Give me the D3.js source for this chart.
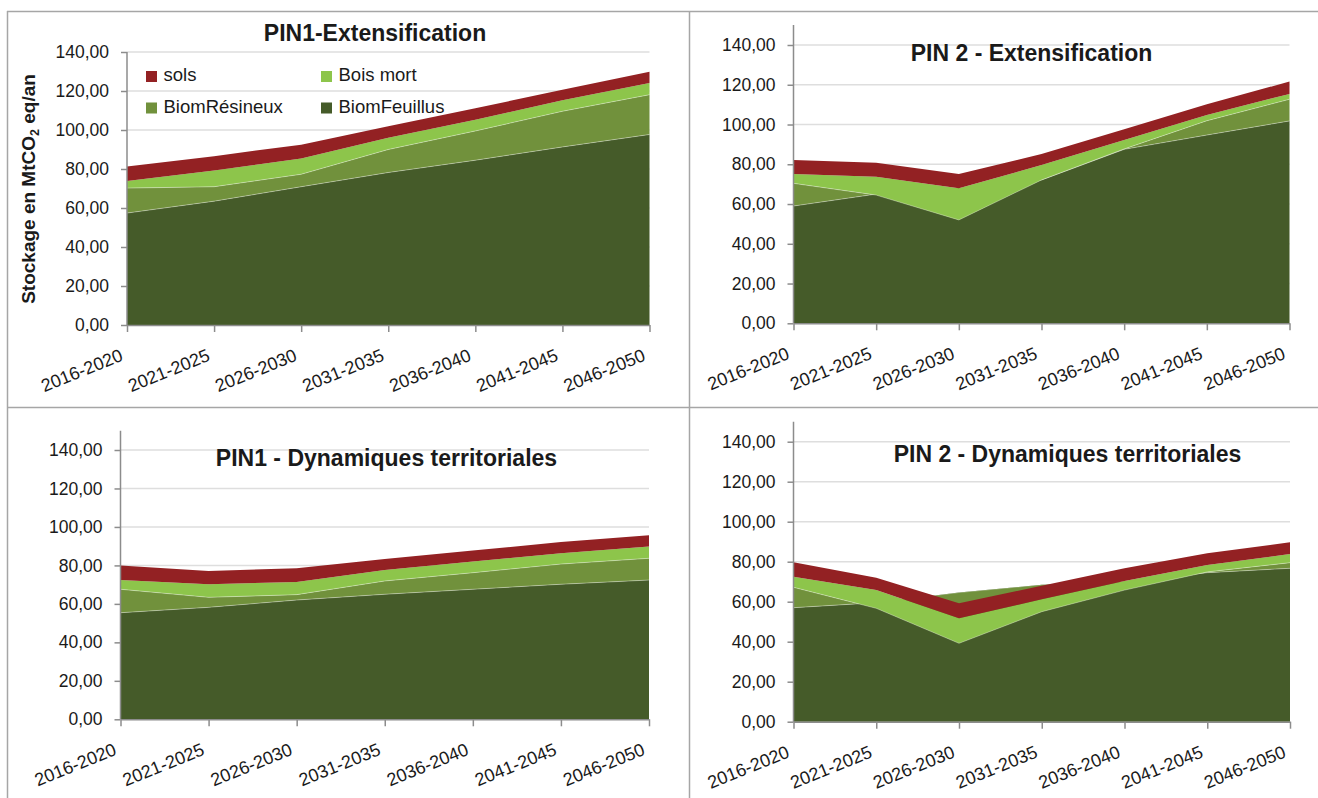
<!DOCTYPE html>
<html>
<head>
<meta charset="utf-8">
<script src="https://cdn.jsdelivr.net/npm/d3@7/dist/d3.min.js"></script>
<style>
  html, body { margin: 0; padding: 0; background: #ffffff; }
  svg { display: block; }
  text { font-family: "Liberation Sans", Arial, sans-serif; fill: #1a1a1a; }
</style>
</head>
<body>
<svg id="chart" width="1318" height="798"></svg>
<script>
// Periods on the x axis
const periods = ["2016-2020", "2021-2025", "2026-2030", "2031-2035", "2036-2040", "2041-2045", "2046-2050"];

// Stocking components, stacked in this order (MtCO2 eq / an)
const seriesKeys = ["BiomFeuillus", "BiomRésineux", "Bois mort", "sols"];
const legendOrder = ["sols", "Bois mort", "BiomRésineux", "BiomFeuillus"];

// y axis tick values
const yTicks = [0, 20, 40, 60, 80, 100, 120, 140];

// PIN1 - Extensification
const pin1ExtFeuillus  = [57.4, 63.5, 70.9, 78.2, 84.5, 91.3, 97.7];
const pin1ExtResineux  = [12.8, 7.4, 6.4, 11.8, 15.0, 18.3, 20.4];
const pin1ExtBoisMort  = [3.6, 8.3, 8.1, 6.0, 5.8, 5.6, 6.0];
const pin1ExtSols      = [7.5, 7.4, 7.1, 5.9, 5.8, 5.5, 5.8];

// PIN 2 - Extensification
const pin2ExtFeuillus  = [59.0, 65.0, 68.0, 72.1, 87.5, 94.7, 101.8];
const pin2ExtResineux  = [11.4, -0.5, -16.0, 0.0, 0.2, 7.2, 10.9];
const pin2ExtBoisMort  = [4.7, 9.2, 15.9, 7.5, 4.5, 2.9, 2.7];
const pin2ExtSols      = [7.0, 7.1, 7.2, 5.6, 5.4, 5.4, 6.2];

// PIN1 - Dynamiques territoriales
const pin1DynFeuillus  = [55.4, 58.2, 62.0, 65.0, 67.6, 70.2, 72.4];
const pin1DynResineux  = [12.2, 5.2, 2.8, 6.9, 8.6, 10.5, 11.3];
const pin1DynBoisMort  = [4.8, 6.8, 6.6, 5.7, 5.8, 5.6, 6.1];
const pin1DynSols      = [7.5, 6.9, 7.1, 5.7, 5.7, 5.9, 5.9];

// PIN 2 - Dynamiques territoriales
const pin2DynFeuillus  = [57.0, 59.5, 64.6, 68.5, 70.0, 74.5, 76.7];
const pin2DynResineux  = [10.2, -2.8, -25.4, -13.5, -4.2, 0.4, 2.8];
const pin2DynBoisMort  = [5.3, 9.1, 12.5, 6.2, 4.5, 3.4, 4.3];
const pin2DynSols      = [7.2, 6.2, 7.5, 6.8, 6.4, 5.9, 5.9];

const colors = {
  "BiomFeuillus": "#455b29",
  "BiomRésineux": "#71913c",
  "Bois mort": "#8dc54b",
  "sols": "#932123"
};

function rows(feuillus, resineux, boisMort, sols) {
  return periods.map((p, i) => ({
    period: p,
    "BiomFeuillus": feuillus[i],
    "BiomRésineux": resineux[i],
    "Bois mort": boisMort[i],
    "sols": sols[i]
  }));
}

// Panel frames: plot box in pixels and axis maximum
const panels = [
  { title: "PIN1-Extensification", data: rows(pin1ExtFeuillus, pin1ExtResineux, pin1ExtBoisMort, pin1ExtSols),
    x0: 127, x1: 649.5, yZero: 325, y140: 52, max: 140, tx: 375, ty: 41, legend: true, yTitle: true },
  { title: "PIN 2 - Extensification", data: rows(pin2ExtFeuillus, pin2ExtResineux, pin2ExtBoisMort, pin2ExtSols),
    x0: 793.5, x1: 1289.5, yZero: 323.3, y140: 45, max: 150, tx: 1031.5, ty: 61 },
  { title: "PIN1 - Dynamiques territoriales", data: rows(pin1DynFeuillus, pin1DynResineux, pin1DynBoisMort, pin1DynSols),
    x0: 120.5, x1: 649, yZero: 719.3, y140: 450, max: 150, tx: 386.5, ty: 466 },
  { title: "PIN 2 - Dynamiques territoriales", data: rows(pin2DynFeuillus, pin2DynResineux, pin2DynBoisMort, pin2DynSols),
    x0: 793.5, x1: 1290, yZero: 721.7, y140: 441.7, max: 150, tx: 1067.5, ty: 462 }
];

const svg = d3.select("#chart");
const fmt = v => d3.format(".2f")(v).replace(".", ",");

// Frame lines between the four charts
const frame = svg.append("g").attr("stroke", "#a6a6a6").attr("stroke-width", 1.5);
frame.append("line").attr("x1", 7).attr("x2", 1318).attr("y1", 11.5).attr("y2", 11.5);
frame.append("line").attr("x1", 7.5).attr("x2", 7.5).attr("y1", 11).attr("y2", 798);
frame.append("line").attr("x1", 689.5).attr("x2", 689.5).attr("y1", 11).attr("y2", 798);
frame.append("line").attr("x1", 7).attr("x2", 1318).attr("y1", 407.5).attr("y2", 407.5);

const stack = d3.stack().keys(seriesKeys).offset(d3.stackOffsetNone);

panels.forEach(pn => {
  const g = svg.append("g");
  const k = (pn.yZero - pn.y140) / 140;
  const y = d3.scaleLinear().domain([0, pn.max]).range([pn.yZero, pn.yZero - pn.max * k]);
  const x = d3.scalePoint().domain(periods).range([pn.x0, pn.x1]).padding(0);

  // Horizontal gridlines
  g.append("g").selectAll("line").data(yTicks.filter(t => t > 0)).join("line")
    .attr("x1", pn.x0).attr("x2", pn.x1)
    .attr("y1", d => y(d)).attr("y2", d => y(d))
    .attr("stroke", "#dedede").attr("stroke-width", 1.5);

  // Stacked areas, drawn bottom series first
  const layers = stack(pn.data);
  const area = d3.area().x(d => x(d.data.period)).y0(d => y(d[0])).y1(d => y(d[1]));
  const seam = d3.line().x(d => x(d.data.period)).y(d => y(d[0]));
  layers.forEach((layer, i) => {
    g.append("path").datum(layer).attr("d", area).attr("fill", colors[layer.key]);
    if (i === 1 || i === 2) {
      g.append("path").datum(layer).attr("d", seam)
        .attr("fill", "none").attr("stroke", "#ffffff").attr("stroke-opacity", 0.35).attr("stroke-width", 1);
    }
  });

  // Y axis
  const yAxis = g.append("g").attr("transform", `translate(${pn.x0},0)`)
    .call(d3.axisLeft(y).tickValues(yTicks).tickSize(6).tickPadding(12).tickFormat(fmt));
  yAxis.select(".domain").attr("stroke", "#8c8c8c").attr("stroke-width", 1.5)
    .attr("d", `M0,${y(pn.max)}V${y(0)}`);
  yAxis.selectAll(".tick line").attr("stroke", "#8c8c8c").attr("stroke-width", 1.5);
  yAxis.selectAll(".tick text").attr("font-size", 17.5).attr("fill", "#1a1a1a")
    .attr("font-family", "Liberation Sans, Arial, sans-serif");

  // X axis
  const xAxis = g.append("g").attr("transform", `translate(0,${pn.yZero})`)
    .call(d3.axisBottom(x).tickSize(7).tickSizeOuter(0));
  xAxis.select(".domain").attr("stroke", "#8c8c8c").attr("stroke-width", 1.5);
  xAxis.selectAll(".tick line").attr("stroke", "#8c8c8c").attr("stroke-width", 1.5);
  xAxis.selectAll(".tick text")
    .attr("font-size", 18).attr("fill", "#1a1a1a")
    .attr("font-family", "Liberation Sans, Arial, sans-serif")
    .attr("text-anchor", "end").attr("dy", null).attr("y", null)
    .attr("transform", "translate(-3.5,35) rotate(-22)");

  // Title
  g.append("text").attr("x", pn.tx).attr("y", pn.ty).attr("text-anchor", "middle")
    .attr("font-size", 23).attr("font-weight", "bold").attr("fill", "#000").text(pn.title);

  // Legend
  if (pn.legend) {
    const pos = [[146, 71], [321, 71], [146, 102.5], [321, 102.5]];
    legendOrder.forEach((key, i) => {
      const lg = g.append("g").attr("transform", `translate(${pos[i][0]},${pos[i][1]})`);
      lg.append("rect").attr("width", 11).attr("height", 11).attr("fill", colors[key]);
      lg.append("text").attr("x", 17.5).attr("y", 10).attr("font-size", 18.5).attr("fill", "#111").text(key);
    });
  }

  // Y axis title
  if (pn.yTitle) {
    const t = g.append("text").attr("transform", "translate(35,189) rotate(-90)")
      .attr("text-anchor", "middle").attr("font-size", 19).attr("font-weight", "bold").attr("fill", "#000");
    t.append("tspan").text("Stockage en MtCO");
    t.append("tspan").attr("font-size", 12.5).attr("dy", 4).text("2");
    t.append("tspan").attr("dy", -4).text(" eq/an");
  }
});
</script>
</body>
</html>
